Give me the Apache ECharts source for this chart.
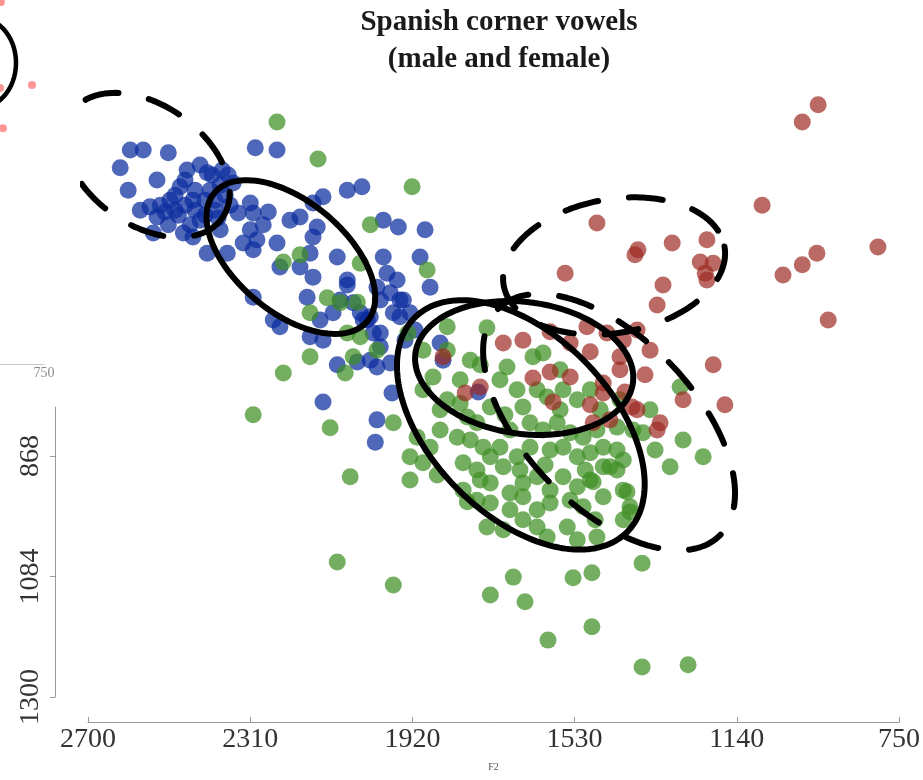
<!DOCTYPE html>
<html>
<head>
<meta charset="utf-8">
<script src="https://cdn.jsdelivr.net/npm/echarts@6/dist/echarts.min.js"></script>
<style>
  html, body { margin: 0; padding: 0; background: #fff; }
  #chart { width: 923px; height: 780px; }
</style>
</head>
<body>
<div id="chart"></div>
<script>
// Axis ticks (Hz)
const f2Ticks = [2700, 2310, 1920, 1530, 1140, 750];
const f1Ticks = [868, 1084, 1300];
const insetF2Ticks = [750];

// Tokens as [F2, F1] in Hz
const vowelI = [
  [2599,319],[2568,319],[2508,324],[2623,351],[2535,373],[2604,391],[2575,427],[2552,421],[2535,439],[2544,468],
  [2472,468],[2449,475],[2300,315],[2248,319],[2080,391],[2045,385],[2138,403],[2162,414],[2312,414],[2269,430],
  [2305,432],[2384,462],[2367,504],[2415,504],[2312,462],[2296,480],[2329,486],[2305,498],[2248,486],[2217,445],
  [2193,439],[2162,475],[2152,457],[2169,504],[2241,529],[2193,529],[2162,547],[2104,511],[2305,583],[2257,624],
  [2241,636],[2176,583],[2145,624],[2114,611],[2080,552],[2097,588],[2066,593],[2049,611],[2032,624],[1994,445],
  [1958,457],[1894,462],[1994,511],[1985,540],[1961,552],[1977,575],[1954,588],[2001,588],[1970,611],[1930,611],
  [1906,511],[1882,565],[2169,654],[2138,660],[2018,647],[2001,672],
  [2492,400],[2468,418],[2444,427],[2420,409],[2408,391],[2396,427],[2432,445],[2456,453],[2372,400],[2360,418],
  [2484,436],[2508,453],[2403,364],[2379,355],[2432,346],[2468,373],[2504,409],[2480,385],[2449,409],[2415,360],
  [2463,355],[2353,378],[2516,430],[2389,441],[2341,432],
  [2384,382],[2365,364],[2396,409],[2420,436],[2444,391],[2492,427],[2527,418],
  [2080,561],[2009,565],[1946,588],[2042,624],[2025,618],[2001,647],[1954,618],[2104,704],[2056,699],[2025,696],
  [2009,708],[1977,701],[1858,665],[1851,696],[2138,771],[1973,755],[2009,803],[2013,843],[1767,753],[2281,453],
  [1918,642],[1942,660]
];

const vowelA = [
  [2248,269],[2150,335],[1925,385],[2025,453],[2233,520],[2193,507],[2049,522],[1889,534],[2128,584],[2169,611],
  [2056,592],[2080,647],[2049,654],[1935,647],[2097,593],[2169,690],[2233,719],[2085,719],[2066,690],[2009,678],
  [2305,794],[2121,817],[1970,808],[1930,869],[2073,905],[1930,911],[1746,638],[1865,902],[1786,696],[1762,704],
  [1698,708],[1636,690],[1612,683],[1841,767],[1810,773],[1793,798],[1858,821],[1817,834],[1770,808],[1755,852],
  [1715,852],[1738,780],[1674,749],[1660,780],[1626,749],[1602,762],[1564,749],[1530,767],[1499,749],[1691,821],
  [1643,808],[1612,821],[1578,808],[1547,826],[1516,834],[1483,821],[1435,816],[1397,821],[1373,826],[1913,834],
  [1882,852],[1899,880],[1803,880],[1770,893],[1738,869],[1707,887],[1674,869],[1643,852],[1595,857],[1564,852],
  [1530,869],[1499,862],[1468,852],[1435,857],[1420,875],[1468,887],[1803,929],[1770,947],[1738,916],[1691,934],
  [1660,916],[1626,905],[1595,929],[1564,905],[1530,923],[1499,911],[1435,893],[1420,929],[1738,952],[1691,964],
  [1660,941],[1626,964],[1595,952],[1547,947],[1516,959],[1468,941],[1746,995],[1707,1000],[1660,982],[1626,995],
  [1554,995],[1530,1018],[1483,1013],[1420,982],[1404,959],[1284,744],[1277,839],[1308,887],[1229,869],[1875,726],
  [1899,749],[1841,678],[2104,1058],[1970,1099],[1683,1085],[1738,1117],[1655,1129],[1540,1086],[1495,1077],[1495,1174],
  [1600,1198],[1375,1060],[1375,1246],[1265,1242],[1411,932],[1404,968],[1492,914],[1602,1013],[1793,950],[1452,887],
  [1715,731],[1571,713],[1475,785],[1667,893],[1607,884],[1511,893],[1786,839],[1703,794],[1571,785],[1428,767],
  [1810,731],[1487,982],[1356,785],[1344,857],[1858,785],[1762,911],[1841,636],[1899,678]
];

const vowelU = [
  [954,238],[992,269],[1088,418],[1483,450],[1559,540],[1385,498],[1392,507],[1303,486],[1220,480],[1236,520],
  [1205,522],[1224,540],[1220,552],[1325,561],[1339,597],[1038,543],[992,525],[957,504],[811,493],[930,624],
  [1387,642],[1707,665],[1660,660],[1595,645],[1547,665],[1499,681],[1459,647],[1507,636],[1420,660],[1428,690],
  [1428,713],[1205,704],[1177,776],[1277,767],[1332,808],[1339,821],[1399,780],[1387,785],[1595,717],[1547,726],
  [1636,728],[1588,771],[1468,737],[1468,755],[1492,808],[1452,803],[1851,690],[1762,744],[1798,755],[1356,678],
  [1368,722],[1499,776],[1416,753]
];

// Dispersion ellipses: centre [F2, F1] and the two semi-axis vectors in Hz
const ellipseCentre = [[2215,511],[2559,346],[1665,812],[1657,710],[1442,527],[1454,807]];
const ellipseAxisA  = [[-183,115],[-180,95],[-253,193],[-260,27],[-264,-35],[-264,204]];
const ellipseAxisB  = [[85,76],[82,88],[154,113],[22,117],[-28,118],[145,106]];
const ellipseDashed = [false, true, false, false, true, true];

// Neighbouring panel (only its right edge is visible at the top left)
const insetTokens = [[828,342],[1017,490],[1030,57],[1036,352]];
const insetEllipseCentre = [[1172,266]];
const insetEllipseAxisA = [[240,0]];
const insetEllipseAxisB = [[0,155]];

function ellipsePath(c, a, b) {
  const pts = [];
  const n = 240;
  for (let k = 0; k <= n; k++) {
    const t = 2 * Math.PI * k / n;
    pts.push([
      c[0] + a[0] * Math.cos(t) + b[0] * Math.sin(t),
      c[1] + a[1] * Math.cos(t) + b[1] * Math.sin(t)
    ]);
  }
  return pts;
}

const serif = 'Liberation Serif';
const axisGrey = '#9a9a9a';
const plain = v => String(v);

const chart = echarts.init(document.getElementById('chart'), null, { renderer: 'canvas' });

const series = [
  {
    name: '/i/', type: 'scatter', xAxisIndex: 0, yAxisIndex: 0,
    data: vowelI, symbolSize: 17,
    itemStyle: { color: '#0b2c9e', opacity: 0.72 }, z: 2, silent: true
  },
  {
    name: '/a/', type: 'scatter', xAxisIndex: 0, yAxisIndex: 0,
    data: vowelA, symbolSize: 17,
    itemStyle: { color: '#3f8f22', opacity: 0.72 }, z: 3, silent: true
  },
  {
    name: '/u/', type: 'scatter', xAxisIndex: 0, yAxisIndex: 0,
    data: vowelU, symbolSize: 17,
    itemStyle: { color: '#9c2a22', opacity: 0.7 }, z: 4, silent: true
  },
  {
    name: 'inset', type: 'scatter', xAxisIndex: 3, yAxisIndex: 3,
    data: insetTokens, symbolSize: 8, clip: false,
    itemStyle: { color: '#ff7070', opacity: 0.75 }, silent: true
  }
];

ellipseCentre.forEach((c, i) => {
  series.push({
    type: 'line', xAxisIndex: 0, yAxisIndex: 0,
    data: ellipsePath(c, ellipseAxisA[i], ellipseAxisB[i]),
    showSymbol: false, symbol: 'none', smooth: false, clip: true, silent: true, z: 6,
    lineStyle: {
      color: '#000', width: 6,
      type: ellipseDashed[i] ? [34, 31] : 'solid',
      cap: 'round', join: 'round'
    }
  });
});

insetEllipseCentre.forEach((c, i) => {
  series.push({
    type: 'line', xAxisIndex: 3, yAxisIndex: 3,
    data: ellipsePath(c, insetEllipseAxisA[i], insetEllipseAxisB[i]),
    showSymbol: false, symbol: 'none', clip: false, silent: true, z: 6,
    lineStyle: { color: '#000', width: 4.5 }
  });
});

const option = {
  backgroundColor: '#ffffff',
  animation: false,
  title: {
    text: 'Spanish corner vowels\n(male and female)',
    left: 494, top: -1, textAlign: 'center',
    textStyle: { fontFamily: serif, fontWeight: 'bold', fontSize: 29, lineHeight: 37, color: '#1a1a1a' }
  },
  grid: [
    { left: 83, top: 0, width: 833, height: 697 },     // data area
    { left: 88, top: 721, width: 815, height: 1 },     // F2 axis
    { left: 55, top: 407, width: 1, height: 290 },     // F1 axis
    { left: 0, top: 0, width: 44, height: 364 }        // neighbouring panel, right edge
  ],
  xAxis: [
    { gridIndex: 0, type: 'value', inverse: true, min: 720, max: 2712, show: false, splitLine: { show: false } },
    {
      gridIndex: 1, type: 'value', inverse: true, min: 750, max: 2700,
      axisLine: { show: true, lineStyle: { color: axisGrey, width: 1 } },
      axisTick: { show: true, inside: true, length: 5, customValues: f2Ticks, lineStyle: { color: axisGrey } },
      axisLabel: { customValues: f2Ticks, formatter: plain, fontFamily: serif, fontSize: 28, color: '#333', margin: 4 },
      splitLine: { show: false },
      name: 'F2', nameLocation: 'middle', nameGap: 40,
      nameTextStyle: { fontFamily: serif, fontSize: 10, color: '#555' }
    },
    { gridIndex: 2, type: 'value', min: 0, max: 1, show: false, splitLine: { show: false } },
    {
      gridIndex: 3, type: 'value', inverse: true, min: 750, max: 1036,
      axisLine: { show: true, lineStyle: { color: '#c8c8c8', width: 1 } },
      axisTick: { show: false },
      axisLabel: { customValues: insetF2Ticks, formatter: plain, fontFamily: serif, fontSize: 14, color: '#8a8a8a', margin: 2 },
      splitLine: { show: false }
    }
  ],
  yAxis: [
    { gridIndex: 0, type: 'value', inverse: true, min: 50, max: 1300, show: false, splitLine: { show: false } },
    { gridIndex: 1, type: 'value', show: false, splitLine: { show: false } },
    {
      gridIndex: 2, type: 'value', inverse: true, min: 780, max: 1300,
      axisLine: { show: true, lineStyle: { color: axisGrey, width: 1 } },
      axisTick: { show: true, length: 5, customValues: f1Ticks, lineStyle: { color: axisGrey } },
      axisLabel: {
        customValues: f1Ticks, formatter: plain, rotate: 90, fontFamily: serif, fontSize: 28, color: '#333',
        margin: 10, align: 'center', verticalAlign: 'bottom'
      },
      splitLine: { show: false }
    },
    { gridIndex: 3, type: 'value', inverse: true, min: 50, max: 1300, show: false, splitLine: { show: false } }
  ],
  series: series
};

chart.setOption(option);
</script>
</body>
</html>
